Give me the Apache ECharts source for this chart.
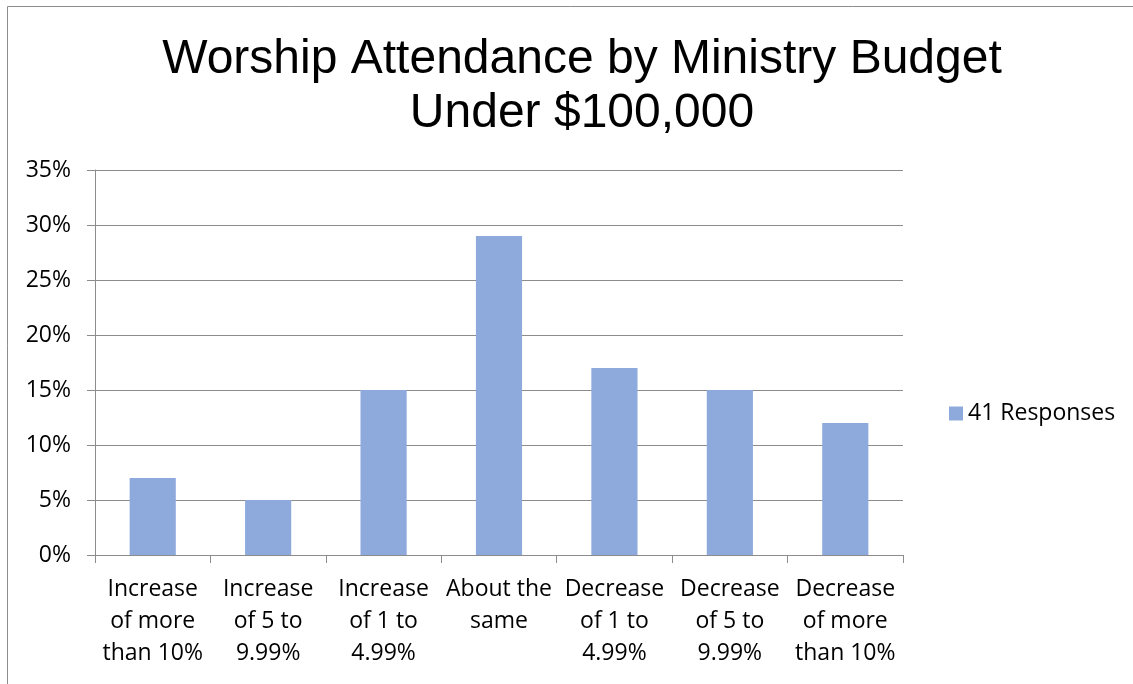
<!DOCTYPE html>
<html>
<head>
<meta charset="utf-8">
<script src="https://cdn.jsdelivr.net/npm/echarts@6/dist/echarts.min.js"></script>
<style>html,body{margin:0;padding:0;background:#fff;}#c{width:1133px;height:684px;}</style>
</head>
<body>
<div id="c"></div>
<script>
const titleText = 'Worship Attendance by Ministry Budget\nUnder $100,000';
const categories = ['Increase\nof more\nthan 10%', 'Increase\nof 5 to\n9.99%', 'Increase\nof 1 to\n4.99%', 'About the\nsame', 'Decrease\nof 1 to\n4.99%', 'Decrease\nof 5 to\n9.99%', 'Decrease\nof more\nthan 10%'];
const seriesName = '41 Responses';
const values = [7, 5, 15, 29, 17, 15, 12];

const chart = echarts.init(document.getElementById('c'));
const lbl = "'Open Sans', Lato, sans-serif";
chart.setOption({
  animation: false,
  graphic: [{type:'rect', shape:{x:7.5,y:6.5,width:1300,height:800}, style:{fill:'none', stroke:'#8c8c8c', lineWidth:1}, silent:true, z:-10}],
  title: {
    text: titleText, left: 577, top: 28, textAlign: 'center',
    textStyle: {fontFamily: "'Liberation Sans', Arial, sans-serif", fontSize: 48, fontWeight: 'normal', color: '#000', lineHeight: 54}
  },
  legend: {
    data: [seriesName], left: 944, top: 397, itemWidth: 14, itemHeight: 14, itemGap: 8,
    icon: 'rect',
    textStyle: {fontFamily: lbl, fontSize: 23, color: '#000'}
  },
  grid: {left: 95, right: 230, top: 170, bottom: 129},
  xAxis: {
    type: 'category', data: categories,
    axisLine: {lineStyle: {color: '#8c8c8c'}},
    axisTick: {show: true, length: 8, lineStyle: {color: '#8c8c8c'}},
    axisLabel: {fontFamily: lbl, fontSize: 23, color: '#000', lineHeight: 32, margin: 18, interval: 0}
  },
  yAxis: {
    type: 'value', min: 0, max: 35, interval: 5,
    axisLine: {show: true, lineStyle: {color: '#8c8c8c'}},
    axisTick: {show: true, length: 8, lineStyle: {color: '#8c8c8c'}},
    splitLine: {lineStyle: {color: '#8c8c8c'}},
    axisLabel: {formatter: '{value}%', fontFamily: lbl, fontSize: 23, color: '#000', margin: 24}
  },
  series: [{
    name: seriesName, type: 'bar', data: values, barWidth: '40%',
    itemStyle: {color: '#8eaadc'}
  }]
});
</script>
</body>
</html>
